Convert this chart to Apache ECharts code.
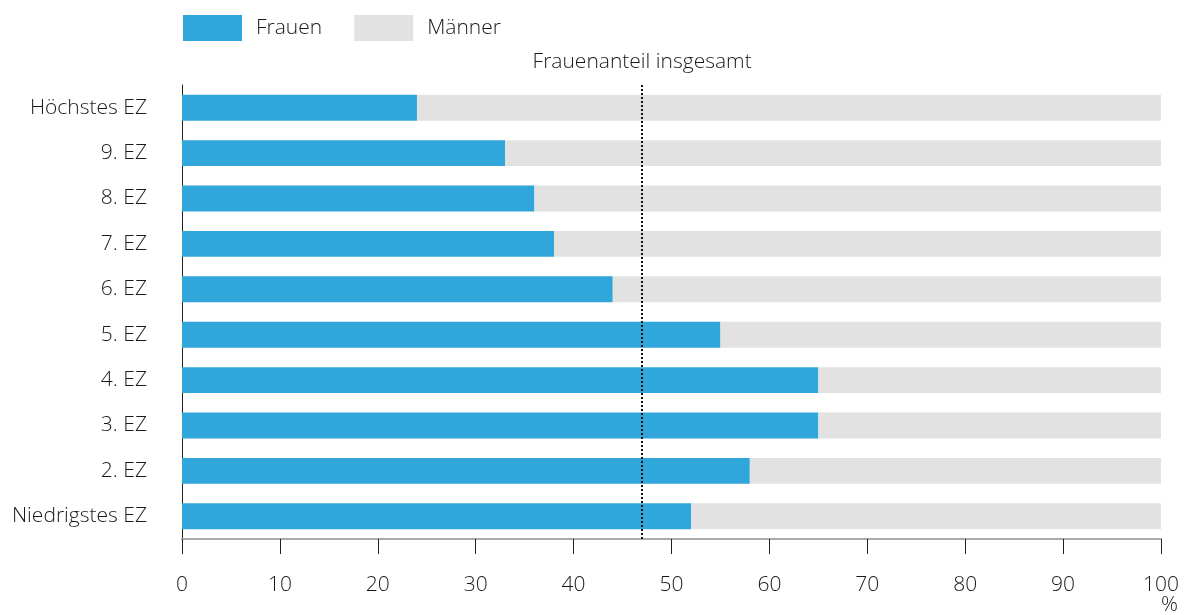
<!DOCTYPE html>
<html>
<head>
<meta charset="utf-8">
<script src="https://cdn.jsdelivr.net/npm/echarts@6/dist/echarts.min.js"></script>
<style>
  html, body { margin: 0; padding: 0; background: #fff; }
  #chart { width: 1190px; height: 615px; }
</style>
</head>
<body>
<div id="chart"></div>
<script>
// Kategorien (von oben nach unten)
const kategorien = ['Höchstes EZ', '9. EZ', '8. EZ', '7. EZ', '6. EZ', '5. EZ', '4. EZ', '3. EZ', '2. EZ', 'Niedrigstes EZ'];
const frauen = [24, 33, 36, 38, 44, 55, 65, 65, 58, 52];
const maenner = [76, 67, 64, 62, 56, 45, 35, 35, 42, 48];
const frauenanteilInsgesamt = 47;
const xTicks = [0, 100, 10];

const schrift = '"Open Sans", "Noto Sans", sans-serif';

let chart = echarts.init(document.getElementById('chart'));
chart.setOption({
  animation: false,
  textStyle: { fontFamily: schrift },
  legend: {
    left: 178,
    top: 10,
    itemWidth: 59,
    itemHeight: 26,
    itemGap: 32,
    icon: 'rect',
    textStyle: { fontSize: 21, color: '#1a1a1a', fontWeight: 300, padding: [0, 0, 0, 9] },
    data: ['Frauen', 'Männer']
  },
  grid: { left: 182, right: 29, top: 85, bottom: 76 },
  xAxis: {
    type: 'value',
    min: xTicks[0],
    max: xTicks[1],
    interval: xTicks[2],
    axisLine: { show: true, lineStyle: { color: '#aaa', width: 2 } },
    axisTick: { show: true, length: 15, lineStyle: { color: '#222', width: 1 } },
    axisLabel: { fontSize: 21, color: '#1a1a1a', fontWeight: 300, margin: 36 },
    splitLine: { show: false }
  },
  yAxis: {
    type: 'category',
    inverse: true,
    data: kategorien,
    axisLine: { show: true, lineStyle: { color: '#222', width: 1 } },
    axisTick: { show: false },
    axisLabel: { fontSize: 21, color: '#1a1a1a', fontWeight: 300, margin: 35 }
  },
  graphic: [{
    type: 'text',
    left: 1161,
    top: 595,
    style: { text: '%', font: '300 21px ' + schrift, fill: '#1a1a1a' }
  }],
  series: [
    {
      name: 'Frauen',
      type: 'bar',
      stack: 'gesamt',
      data: frauen,
      barCategoryGap: '43%',
      itemStyle: { color: '#30a6db' },
      markLine: {
        silent: true,
        symbol: 'none',
        lineStyle: { color: '#111', type: [2, 2], width: 2 },
        label: {
          show: true,
          position: 'start',
          formatter: 'Frauenanteil insgesamt',
          fontSize: 21,
          fontWeight: 300,
          color: '#1a1a1a',
          distance: 12
        },
        data: [{ xAxis: frauenanteilInsgesamt }]
      }
    },
    {
      name: 'Männer',
      type: 'bar',
      stack: 'gesamt',
      data: maenner,
      itemStyle: { color: '#e2e2e2' }
    }
  ]
});
</script>
</body>
</html>
